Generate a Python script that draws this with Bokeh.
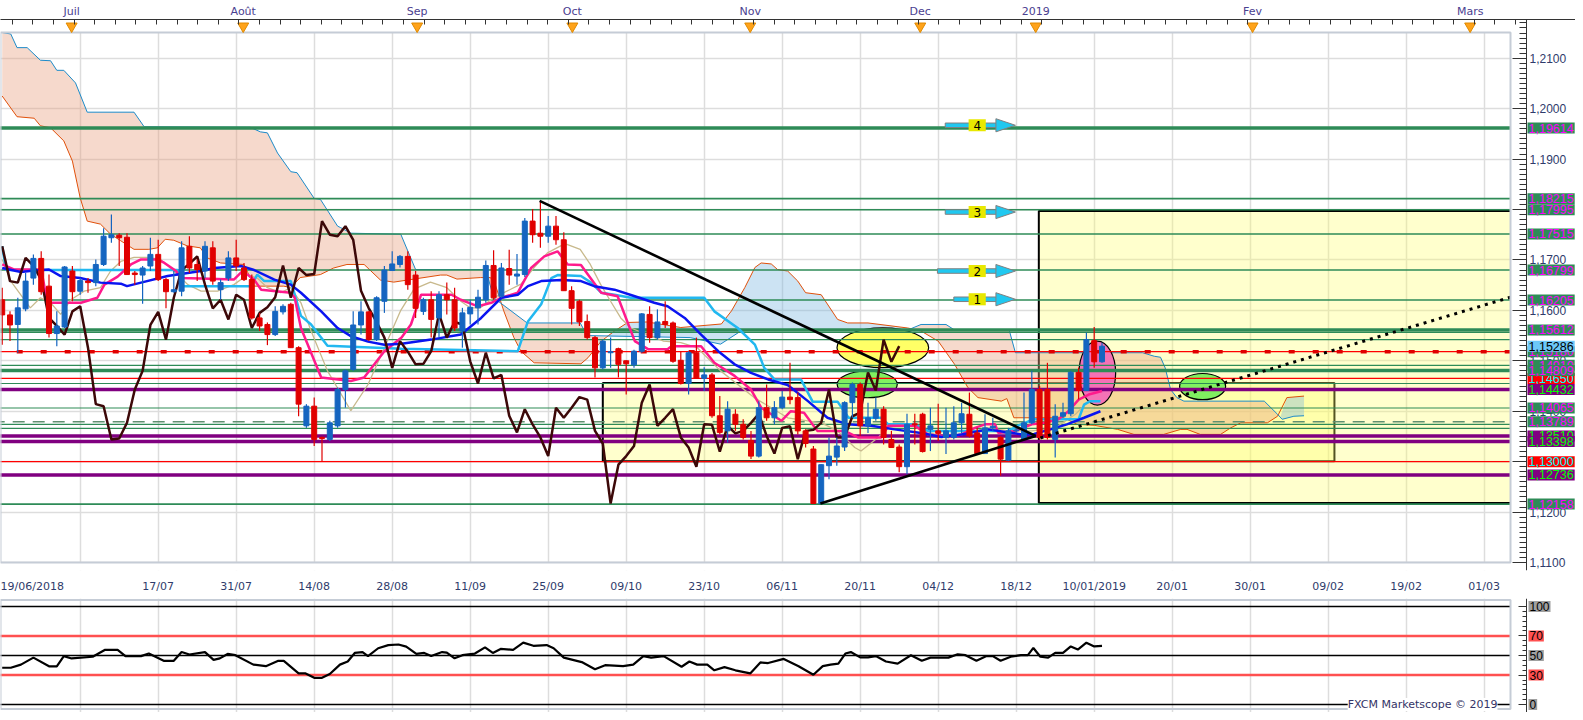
import numpy as np
from bokeh.plotting import figure
from bokeh.models import Range1d, LinearAxis, FixedTicker, CustomJSTickFormatter, Label
from bokeh.layouts import column
from bokeh.embed import file_html
from bokeh.resources import INLINE
from bokeh.core.properties import value

# ---------------- data (EUR/USD daily, bar index 0 = 19/06/2018) ----------------
opens = [1.1621,1.1591,1.1572,1.1603,1.1664,1.1703,1.1648,1.1554,1.1567,1.1678,
 1.1638,1.1658,1.1655,1.1691,1.1744,1.1749,1.1745,1.1674,1.1670,1.1688,
 1.1711,1.1661,1.1637,1.1638,1.1727,1.1691,1.1678,1.1724,1.1641,1.1664,
 1.1704,1.1684,1.1661,1.1585,1.1572,1.1552,1.1597,1.1612,1.1526,1.1371,
 1.1410,1.1348,1.1344,1.1371,1.1443,1.1483,1.1571,1.1597,1.1542,1.1618,
 1.1679,1.1691,1.1707,1.1670,1.1598,1.1621,1.1585,1.1631,1.1621,1.1559,
 1.1593,1.1605,1.1621,1.1689,1.1628,1.1683,1.1668,1.1671,1.1777,1.1753,
 1.1747,1.1767,1.1740,1.1639,1.1618,1.1578,1.1546,1.1486,1.1516,1.1524,
 1.1500,1.1492,1.1519,1.1592,1.1546,1.1578,1.1575,1.1501,1.1455,1.1516,
 1.1465,1.1472,1.1391,1.1361,1.1394,1.1374,1.1342,1.1311,1.1407,1.1387,
 1.1407,1.1428,1.1427,1.1361,1.1325,1.1217,1.1292,1.1309,1.1329,1.1417,
 1.1453,1.1371,1.1386,1.1404,1.1344,1.1329,1.1290,1.1375,1.1394,1.1364,
 1.1361,1.1348,1.1348,1.1377,1.1394,1.1357,1.1316,1.1367,1.1348,1.1303,
 1.1361,1.1344,1.1377,1.1443,1.1443,1.1344,1.1390,1.1395,1.1477,1.1441,
 1.1540,1.1498]
highs = [1.1645,1.1598,1.1625,1.1674,1.1711,1.1717,1.1671,1.1598,1.1688,1.1688,
 1.1664,1.1664,1.1701,1.1763,1.1790,1.1753,1.1753,1.1678,1.1688,1.1744,
 1.1740,1.1664,1.1678,1.1737,1.1747,1.1701,1.1737,1.1737,1.1661,1.1717,
 1.1740,1.1694,1.1671,1.1595,1.1576,1.1608,1.1612,1.1615,1.1529,1.1414,
 1.1427,1.1350,1.1381,1.1447,1.1483,1.1598,1.1618,1.1598,1.1628,1.1688,
 1.1717,1.1710,1.1717,1.1678,1.1625,1.1638,1.1638,1.1655,1.1645,1.1605,
 1.1621,1.1641,1.1699,1.1719,1.1694,1.1720,1.1712,1.1783,1.1801,1.1815,
 1.1787,1.1787,1.1755,1.1648,1.1621,1.1592,1.1549,1.1542,1.1546,1.1526,
 1.1501,1.1522,1.1595,1.1608,1.1602,1.1618,1.1578,1.1519,1.1519,1.1546,
 1.1487,1.1476,1.1430,1.1420,1.1404,1.1384,1.1361,1.1420,1.1453,1.1420,
 1.1440,1.1496,1.1437,1.1364,1.1331,1.1295,1.1348,1.1348,1.1420,1.1457,
 1.1457,1.1417,1.1427,1.1410,1.1361,1.1334,1.1395,1.1395,1.1397,1.1407,
 1.1415,1.1407,1.1410,1.1417,1.1437,1.1367,1.1394,1.1387,1.1351,1.1367,
 1.1366,1.1437,1.1480,1.1450,1.1496,1.1414,1.1417,1.1480,1.1486,1.1556,
 1.1567,1.1536]
lows = [1.1532,1.1539,1.1516,1.1598,1.1651,1.1631,1.1546,1.1529,1.1565,1.1618,
 1.1631,1.1635,1.1648,1.1688,1.1734,1.1688,1.1670,1.1651,1.1613,1.1678,
 1.1658,1.1604,1.1635,1.1628,1.1674,1.1658,1.1664,1.1651,1.1621,1.1658,
 1.1678,1.1658,1.1582,1.1559,1.1531,1.1549,1.1592,1.1526,1.1390,1.1367,
 1.1331,1.1301,1.1341,1.1367,1.1407,1.1480,1.1552,1.1539,1.1539,1.1595,
 1.1678,1.1685,1.1641,1.1585,1.1591,1.1546,1.1546,1.1592,1.1559,1.1526,
 1.1572,1.1572,1.1615,1.1621,1.1625,1.1651,1.1651,1.1666,1.1734,1.1724,
 1.1734,1.1730,1.1639,1.1572,1.1569,1.1542,1.1467,1.1483,1.1486,1.1467,
 1.1433,1.1486,1.1516,1.1536,1.1542,1.1565,1.1496,1.1453,1.1433,1.1465,
 1.1440,1.1387,1.1354,1.1338,1.1361,1.1344,1.1305,1.1308,1.1381,1.1374,
 1.1404,1.1414,1.1354,1.1328,1.1217,1.1216,1.1265,1.1292,1.1321,1.1387,
 1.1351,1.1357,1.1381,1.1334,1.1327,1.1279,1.1275,1.1334,1.1318,1.1321,
 1.1341,1.1315,1.1344,1.1357,1.1348,1.1315,1.1315,1.1361,1.1272,1.1301,
 1.1358,1.1341,1.1374,1.1344,1.1344,1.1308,1.1387,1.1390,1.1423,1.1440,
 1.1486,1.1496]
closes = [1.1591,1.1571,1.1605,1.1658,1.1703,1.1637,1.1554,1.1569,1.1686,1.1637,
 1.1659,1.1655,1.1691,1.1747,1.1750,1.1744,1.1671,1.1671,1.1684,1.1711,
 1.1661,1.1637,1.1641,1.1724,1.1684,1.1681,1.1727,1.1658,1.1655,1.1704,
 1.1688,1.1661,1.1585,1.1569,1.1552,1.1598,1.1608,1.1526,1.1414,1.1410,
 1.1344,1.1346,1.1377,1.1443,1.1480,1.1571,1.1597,1.1542,1.1625,1.1680,
 1.1692,1.1707,1.1651,1.1604,1.1621,1.1582,1.1631,1.1621,1.1565,1.1595,
 1.1606,1.1626,1.1689,1.1625,1.1684,1.1670,1.1672,1.1777,1.1750,1.1747,
 1.1767,1.1740,1.1639,1.1604,1.1577,1.1546,1.1486,1.1539,1.1518,1.1493,
 1.1494,1.1519,1.1593,1.1546,1.1577,1.1572,1.1499,1.1455,1.1516,1.1465,
 1.1472,1.1391,1.1358,1.1404,1.1374,1.1348,1.1311,1.1407,1.1387,1.1407,
 1.1428,1.1423,1.1361,1.1336,1.1217,1.1294,1.1311,1.1331,1.1417,1.1453,
 1.1371,1.1387,1.1404,1.1348,1.1328,1.1290,1.1374,1.1373,1.1320,1.1371,
 1.1356,1.1361,1.1377,1.1395,1.1351,1.1316,1.1367,1.1370,1.1305,1.1361,
 1.1363,1.1377,1.1443,1.1348,1.1348,1.1390,1.1397,1.1477,1.1441,1.1542,
 1.1498,1.1529]
bars = list(range(len(closes)))

# Ichimoku Tenkan (pink)
tenkan_x = [0,1.5,5.0,5.8,10.1,12.2,13.1,14.8,16.5,17.8,19.9,20.8,22.3,22.9,25.5,29.7,30.8,32.3,33.2,37.0,
 37.5,38.3,40.9,44.7,46.4,49.0,51.2,52.4,53.7,57.6,58.8,61.0,62.7,64.0,66.1,67.8,69.5,71.2,72.5,74.2,
 76.8,78.9,81.1,82.8,85.3,85.8,89.6,91.3,93.9,96.0,97.3,99.9,101.1,102.8,104.5,108.0,109.7,112.7,113.6,117.0,
 118.7,121.3,123.0,124.7,126.0,127.3,127.7,129.9,132.0,133.7,135.4,136.7,138.0,139.3,141.0]
tenkan_y = [1.1691,1.1681,1.1681,1.1615,1.1615,1.1625,1.1651,1.1667,1.1691,1.1701,1.1701,1.1694,1.1678,1.1664,1.1663,1.1661,1.1678,1.1661,1.1641,1.1635,
 1.1625,1.1565,1.1467,1.1460,1.1467,1.1519,1.1546,1.1572,1.1631,1.1631,1.1621,1.1608,1.1615,1.1625,1.1635,1.1684,1.1707,1.1717,1.1691,1.1690,
 1.1635,1.1628,1.1539,1.1523,1.1523,1.1529,1.1529,1.1496,1.1470,1.1443,1.1407,1.1381,1.1400,1.1397,1.1361,1.1361,1.1348,1.1348,1.1371,1.1371,
 1.1354,1.1349,1.1354,1.1367,1.1374,1.1374,1.1357,1.1361,1.1374,1.1377,1.1384,1.1400,1.1423,1.1433,1.1440]
# Ichimoku Kijun (light blue)
kijun_x = [0,0.5,22.5,23.0,31.9,32.7,33.6,37.0,38.3,39.6,41.7,51.2,66.1,67.4,69.1,70.4,71.2,74.2,75.5,76.8,
 78.5,80.6,90.0,91.3,94.3,96.5,97.7,99.0,102.4,103.9,107.1,108.5,112.7,113.6,117.0,118.7,127.3,128.5,130.6,132.3,
 138.0,138.7,139.5,140.8]
kijun_y = [1.1727,1.1680,1.1680,1.1648,1.1648,1.1671,1.1658,1.1658,1.1589,1.1572,1.1530,1.1524,1.1519,1.1578,1.1612,1.1664,1.1670,1.1668,1.1655,1.1635,
 1.1631,1.1625,1.1625,1.1598,1.1565,1.1532,1.1486,1.1463,1.1463,1.1419,1.1419,1.1387,1.1387,1.1374,1.1374,1.1361,1.1361,1.1357,1.1374,1.1384,
 1.1384,1.1413,1.1420,1.1420]
# moving average (blue)
sma_x = [0,2.4,4.1,6.0,7.5,10.0,12.6,15.2,16.0,17.8,21.2,25.5,27.2,30.6,32.3,34.9,37.0,38.3,40.9,43.0,
 44.7,46.9,49.0,51.2,55.0,58.8,61.4,64.0,66.1,67.4,69.1,71.7,74.2,75.9,78.5,81.1,83.6,85.3,87.5,89.6,
 91.8,93.9,96.0,98.2,100.7,103.3,105.8,108.4,111.4,114.4,117.8,120.4,123.0,126.4,128.6,130.7,132.3,134.4,136.5,138.7,140.8]
sma_y = [1.1684,1.1676,1.1679,1.1681,1.1668,1.1664,1.1655,1.1653,1.1648,1.1655,1.1668,1.1678,1.1684,1.1688,1.1680,1.1661,1.1651,1.1635,1.1598,1.1565,
 1.1549,1.1538,1.1532,1.1534,1.1542,1.1552,1.1585,1.1625,1.1631,1.1648,1.1658,1.1660,1.1658,1.1648,1.1641,1.1628,1.1615,1.1608,1.1585,1.1552,
 1.1519,1.1493,1.1476,1.1463,1.1452,1.1420,1.1387,1.1374,1.1371,1.1364,1.1357,1.1349,1.1354,1.1364,1.1359,1.1354,1.1355,1.1364,1.1374,1.1387,1.1400]
# slow thin line (beige)
slow_x = [0,1.1,3.6,4.9,6.2,7.5,8.8,10.5,12.6,13.9,15.2,16.9,18.6,20.3,22.0,23.8,25.5,27.6,29.7,31.5,
 32.7,34.0,35.7,37.0,38.3,39.6,41.7,44.7,46.9,49.0,51.1,52.8,54.9,57.0,58.8,60.0,61.3,63.0,64.7,66.5,
 68.2,69.9,71.6,72.4,74.1,75.4,76.7,78.0,79.3,80.6,82.7,84.8,87.0,89.1,92.1,96.4,100.7,105.0,107.1,109.3,
 110.1,112.3,113.6,116.1,119.6,121.3,124.7,126.4,129.0,132.0,135.0,137.6,139.3]
slow_y = [1.1701,1.1658,1.1605,1.1625,1.1615,1.1592,1.1621,1.1638,1.1645,1.1678,1.1697,1.1705,1.1705,1.1701,1.1678,1.1651,1.1638,1.1638,1.1651,1.1671,
 1.1664,1.1645,1.1635,1.1645,1.1615,1.1559,1.1480,1.1401,1.1453,1.1526,1.1600,1.1642,1.1656,1.1645,1.1618,1.1605,1.1605,1.1625,1.1638,1.1652,
 1.1685,1.1714,1.1728,1.1731,1.1721,1.1691,1.1652,1.1618,1.1585,1.1565,1.1552,1.1539,1.1536,1.1526,1.1480,1.1427,1.1387,1.1377,1.1361,1.1328,
 1.1321,1.1348,1.1367,1.1374,1.1354,1.1348,1.1361,1.1367,1.1361,1.1361,1.1367,1.1394,1.1420]
# Senkou span A (orange) and span B (blue)
spanA_x = [0,1.9,4.1,4.9,6.2,7.9,9.0,10.0,10.9,12.6,13.9,15.2,16.9,18.8,19.9,20.9,22.0,23.7,25.4,26.3,
 28.0,31.0,32.3,36.1,37.0,38.2,40.8,42.5,44.2,46.4,48.5,50.2,56.2,57.0,58.3,61.3,62.6,63.2,64.3,65.6,
 66.5,68.2,74.2,75.1,76.8,78.5,80.2,82.7,87.0,92.2,93.5,95.2,96.5,97.3,98.6,99.4,100.7,102.0,103.0,105.0,
 107.1,108.4,111.0,116.1,117.8,120.0,122.1,123.8,125.1,128.1,128.8,129.7,136.1,137.8,140.0,143.0,145.1,148.9,151.1,151.9,
 153.6,156.2,157.5,158.8,162.2,163.5,164.7,166.9]
spanA_y = [1.2025,1.1984,1.1981,1.1966,1.1962,1.1936,1.1896,1.1823,1.1777,1.1771,1.1751,1.1738,1.1721,1.1721,1.1724,1.1741,1.1739,1.1728,1.1724,1.1704,
 1.1694,1.1691,1.1648,1.1648,1.1645,1.1665,1.1671,1.1684,1.1691,1.1691,1.1660,1.1656,1.1670,1.1670,1.1662,1.1665,1.1665,1.1652,1.1599,1.1546,
 1.1519,1.1496,1.1494,1.1506,1.1539,1.1559,1.1576,1.1577,1.1566,1.1573,1.1599,1.1645,1.1685,1.1694,1.1692,1.1681,1.1678,1.1658,1.1635,1.1631,
 1.1582,1.1575,1.1575,1.1565,1.1559,1.1539,1.1493,1.1447,1.1427,1.1420,1.1425,1.1387,1.1387,1.1374,1.1372,1.1364,1.1354,1.1354,1.1364,1.1364,
 1.1354,1.1354,1.1367,1.1377,1.1377,1.1390,1.1427,1.1430]
spanB_x = [0,1.1,1.9,3.2,4.9,6.2,7.0,7.9,9.4,10.9,16.9,18.2,31.8,33.1,34.0,35.3,37.0,37.8,40.0,40.8,
 43.0,43.4,44.7,51.1,53.0,62.0,63.0,67.3,74.1,75.0,88.2,92.1,94.7,96.0,116.1,117.8,121.0,122.1,129.1,129.9,
 146.2,147.7,148.5,149.1,149.8,150.6,151.5,161.8,163.5,164.1,165.6,166.9]
spanB_y = [1.2151,1.2148,1.2121,1.2121,1.2096,1.2095,1.2076,1.2076,1.2051,1.1993,1.1993,1.1964,1.1963,1.1954,1.1952,1.1912,1.1875,1.1873,1.1822,1.1820,
 1.1767,1.1764,1.1753,1.1751,1.1681,1.1681,1.1625,1.1575,1.1575,1.1550,1.1546,1.1533,1.1559,1.1561,1.1561,1.1572,1.1572,1.1561,1.1561,1.1516,
 1.1516,1.1509,1.1507,1.1486,1.1443,1.1427,1.1420,1.1420,1.1394,1.1384,1.1390,1.1391]
cloud_cross_x = [77.4, 116.6, 163.9]
cloud_cross_y = [1.1548, 1.1563, 1.1390]
chikou_lag = 26

# RSI
rsi_x = [0,1.1,2.4,4.0,6.0,7.0,7.9,8.9,11.6,13.2,14.8,15.8,17.8,18.8,20.7,22.0,23.0,24.0,26.0,27.1,
 27.9,28.9,29.9,32.2,33.8,35.4,36.1,38.0,38.9,40.0,41.0,42.0,43.3,44.3,45.2,46.2,46.9,48.2,49.5,50.8,
 51.8,53.1,54.1,55.0,56.4,57.0,58.0,59.0,60.6,61.9,62.9,63.9,65.5,66.8,68.1,69.8,70.7,72.0,74.3,76.0,
 77.3,79.6,80.9,82.2,83.2,84.8,87.1,88.1,89.1,90.4,91.3,92.6,94.0,95.9,97.2,98.2,100.2,102.1,104.0,105.2,
 106.2,107.2,108.1,108.8,110.0,111.0,112.0,113.3,114.8,116.5,117.9,119.0,121.3,122.5,123.5,124.9,126.2,127.0,128.0,129.3,
 130.6,131.5,132.2,133.1,134.1,135.0,136.0,137.0,137.9,139.0,140.0,141.0]
rsi_v = [37.5,37.5,40.7,47.8,39.0,39.0,49.4,47.0,48.7,55.8,55.8,49.4,49.4,52.0,44.6,44.6,53.5,51.0,53.5,45.5,
 47.1,51.6,50.3,40.7,39.1,44.6,44.6,31.7,31.7,27.2,27.2,31.1,40.7,43.9,52.6,53.5,49.4,57.4,60.6,61.2,
 59.0,51.6,52.6,49.4,53.5,52.9,47.1,50.3,52.0,58.3,52.6,56.7,55.8,63.1,59.9,60.6,57.4,47.8,43.3,35.9,
 40.1,39.1,40.7,49.4,47.8,49.4,38.5,43.9,40.7,40.7,34.9,38.1,34.9,31.7,42.9,42.3,46.5,39.1,30.4,39.1,
 40.7,41.7,52.0,53.5,48.1,48.1,49.4,43.9,41.7,50.3,44.6,47.8,47.8,51.3,50.3,44.6,49.4,49.4,44.6,48.7,
 50.3,50.3,57.7,48.7,47.8,52.6,52.6,59.3,56.1,63.1,59.3,59.9]
rsi_levels = [100, 70, 50, 30, 0]

# horizontal levels drawn on the chart
levels = [1.19614,1.18215,1.17995,1.17515,1.16799,1.16205,1.15612,1.1556,1.1542,1.1518,1.1491,1.14809,
          1.1465,1.1455,1.14432,1.14065,1.13789,1.1374,1.1366,1.1351,1.13398,1.1300,1.12736,1.12158]
level_kind = ['G','g','g','g','g','g','G','gt','gt','rd','gt','G','r','gt','P','gt','gd','gt','gt','P','P','r','P','g']
# price tags on the right scale (partly hidden ones first)
tag_values = [1.1518, 1.1491, 1.1465, 1.1351,
              1.12158, 1.12736, 1.1300, 1.13398, 1.13789, 1.14065, 1.14432, 1.14809,
              1.15612, 1.16205, 1.16799, 1.17515, 1.17995, 1.18215, 1.19614, 1.15286]
tag_kind = ['g','g','r','P', 'g','P','r','P','g','g','P','g', 'g','g','g','g','g','g','g','cur']

# drawings
zone_left = [77.0, 132.9]
zone_right = [170.8, 193.6]
zone_bottom = [1.1301, 1.1218]
zone_top = [1.1456, 1.1797]
ell_x = [112.9, 110.9, 153.9, 140.4]
ell_y = [1.15258, 1.14532, 1.14488, 1.14756]
ell_w = [11.75, 7.7, 5.9, 4.7]
ell_h = [0.0079, 0.0053, 0.0052, 0.0127]
trend_x0 = [68.9, 104.9]
trend_y0 = [1.1817, 1.1217]
trend_x1 = [132.5, 132.5]
trend_y1 = [1.1351, 1.1351]
dotted_x = [133.1, 193.37]
dotted_y = [1.1347, 1.1626]
arrow_labels = ["4", "3", "2", "1"]
arrow_y = [1.1967, 1.1795, 1.1678, 1.1622]
arrow_x0 = [120.9, 120.9, 119.9, 122.0]
arrow_x1 = 128.0
arrow_tip = 129.9
arrow_label_x = 125.0

# axes
grid_bars = list(range(10, 200, 10))
date_tick_bars = [3.3, 20, 30, 40, 50, 60, 70, 80, 90, 100, 110, 120, 130, 140, 150, 160, 170, 180, 190]
date_tick_labels = ["19/06/2018", "17/07", "31/07", "14/08", "28/08", "11/09", "25/09", "09/10", "23/10",
                    "06/11", "20/11", "04/12", "18/12", "10/01/2019", "20/01", "30/01", "09/02", "19/02", "01/03"]
month_bars = [8.9, 30.9, 53.2, 73.1, 95.9, 117.7, 132.5, 160.3, 188.2]
month_labels = ["Juil", "Août", "Sep", "Oct", "Nov", "Dec", "2019", "Fev", "Mars"]

# ---------------- layout constants ----------------
FONT = "DejaVu Sans"
TAGFONT = "Liberation Sans"
W = 1575
PX_PER_BAR = 7.8
XMIN = -0.218
XMAX = XMIN + W / PX_PER_BAR
XR = XMIN + 1510 / PX_PER_BAR      # right edge of the chart box
XA = XMIN + 1526 / PX_PER_BAR      # price scale position
CHART_TOP = 1.2151
CHART_BOT = 1.1100
PX_PER_PRICE = 530 / (CHART_TOP - CHART_BOT)
YMAX = CHART_TOP + 13 / PX_PER_PRICE
YMIN = CHART_BOT - 8 / PX_PER_PRICE
GREEN = "#2E8B57"
PURPLE = "#800080"
AXIS_TXT = "#2F3B6B"
BOX = "#C5CCD6"

# ---------------- main chart ----------------
p = figure(width=W, height=598, x_range=Range1d(XMIN, XMAX), y_range=Range1d(YMIN, YMAX),
           output_backend="svg", toolbar_location=None, y_axis_location=None,
           min_border_left=0, min_border_right=0, min_border_top=19, min_border_bottom=28,
           background_fill_color="white", border_fill_color="white")
p.outline_line_color = None

p.xgrid.ticker = FixedTicker(ticks=grid_bars)
p.ygrid.ticker = FixedTicker(ticks=[round(1.11 + 0.01 * k, 2) for k in range(11)])
for g in (p.xgrid[0], p.ygrid[0]):
    g.grid_line_color = "#DDDDDD"
    g.grid_line_width = 1.5

xb = p.xaxis[0]
xb.ticker = FixedTicker(ticks=date_tick_bars)
xb.major_label_overrides = {t: s for t, s in zip(date_tick_bars, date_tick_labels)}
xb.axis_line_color = None
xb.major_tick_line_color = None
xb.minor_tick_line_color = None
xb.major_label_standoff = 3
xb.major_label_text_font = FONT
xb.major_label_text_font_size = "11px"
xb.major_label_text_color = AXIS_TXT

top = LinearAxis(ticker=FixedTicker(ticks=month_bars, minor_ticks=list(np.arange(1.3, XA, 2.64))))
top.major_label_overrides = {t: s for t, s in zip(month_bars, month_labels)}
top.axis_line_color = "#333333"
top.major_tick_in = 0
top.major_tick_out = 0
top.minor_tick_in = 5
top.minor_tick_out = 0
top.minor_tick_line_color = "#333333"
top.major_label_standoff = 2
top.major_label_text_font = FONT
top.major_label_text_font_size = "11px"
top.major_label_text_color = "#4A4090"
p.add_layout(top, "above")

ya = LinearAxis(fixed_location=XA,
                ticker=FixedTicker(ticks=[round(1.11 + 0.01 * k, 2) for k in range(11)],
                                   minor_ticks=[round(1.11 + 0.001 * k, 3) for k in range(108)]),
                formatter=CustomJSTickFormatter(code="return tick.toFixed(4).replace('.', ',');"))
ya.axis_line_color = "#333333"
ya.major_tick_out = 0
ya.major_tick_in = 14
ya.minor_tick_out = 0
ya.minor_tick_in = 7
ya.major_tick_line_color = "#333333"
ya.minor_tick_line_color = "#333333"
ya.major_label_standoff = 3
ya.major_label_text_font = TAGFONT
ya.major_label_text_font_size = "12px"
ya.major_label_text_color = AXIS_TXT
p.add_layout(ya, "right")

# rectangles (zones)
p.quad(left=zone_left, right=zone_right, bottom=zone_bottom, top=zone_top,
       fill_color="#FFFF66", fill_alpha=0.33, line_color="black", line_width=2)

# cloud
cuts = [spanA_x[0]] + cloud_cross_x + [spanA_x[-1]]
cxs, cys, ccol = [], [], []
for k in range(len(cuts) - 1):
    lo, hi = cuts[k], cuts[k + 1]
    px, py = [], []
    if k > 0:
        px.append(cloud_cross_x[k - 1]); py.append(cloud_cross_y[k - 1])
    for x, y in zip(spanA_x, spanA_y):
        if lo <= x <= hi:
            px.append(x); py.append(y)
    if k < len(cloud_cross_x):
        px.append(cloud_cross_x[k]); py.append(cloud_cross_y[k])
    bpts = [(x, y) for x, y in zip(spanB_x, spanB_y) if lo <= x <= hi]
    for x, y in reversed(bpts):
        px.append(x); py.append(y)
    cxs.append(px); cys.append(py)
    ccol.append("#E8A080" if k % 2 == 0 else "#80B8E0")
p.patches(xs=cxs, ys=cys, fill_color=ccol, fill_alpha=0.4, line_color=None)
p.line(spanA_x, spanA_y, line_color="#E0500A", line_width=1)
p.line(spanB_x, spanB_y, line_color="#1C8AC8", line_width=1)

# ellipses
p.ellipse(x=ell_x, y=ell_y, width=ell_w, height=ell_h,
          fill_color=["#FFFF66", "#80F060", "#80F060", "#F472B6"], fill_alpha=1.0,
          line_color="black", line_width=1.2)

# horizontal levels
for lv, kd in zip(levels, level_kind):
    x0, x1 = XMIN - 1, XR
    if kd == 'G':
        p.segment(x0, lv, x1, lv, line_color=GREEN, line_width=3.5)
    elif kd == 'g':
        p.segment(x0, lv, x1, lv, line_color=GREEN, line_width=1.6)
    elif kd == 'gt':
        p.segment(x0, lv, x1, lv, line_color=GREEN, line_width=1.1)
    elif kd == 'P':
        p.segment(x0, lv, x1, lv, line_color=PURPLE, line_width=3.5)
    elif kd == 'r':
        p.segment(x0, lv, x1, lv, line_color="#FF0000", line_width=1.3)
    elif kd == 'rd':
        p.segment(x0, lv, x1, lv, line_color="#FF0000", line_width=1.3)
        p.segment(x0, lv, x1, lv, line_color="#E00000", line_width=3.5, line_dash="6 18")
    elif kd == 'gd':
        p.segment(x0, lv, x1, lv, line_color="#5F9070", line_width=1.5, line_dash="12 8")

# indicator lines
p.line(slow_x, slow_y, line_color="#C8B98C", line_width=1.3)
p.line(kijun_x, kijun_y, line_color="#22B8F0", line_width=2.5)
p.line(tenkan_x, tenkan_y, line_color="#FF1A8C", line_width=2.5)
p.line(sma_x, sma_y, line_color="#0A14F0", line_width=2.5)
p.line(bars[:-chikou_lag], closes[chikou_lag:], line_color="#3C0808", line_width=2.5)

# candles
ccolors = ["#1565C0" if c >= o else "#E00000" for o, c in zip(opens, closes)]
p.segment(x0=bars, y0=lows, x1=bars, y1=highs, line_color=ccolors, line_width=1.2)
p.vbar(x=bars, width=0.64, top=[max(o, c) for o, c in zip(opens, closes)],
       bottom=[min(o, c) for o, c in zip(opens, closes)], fill_color=ccolors, line_color=ccolors)

# trendlines
p.segment(x0=trend_x0, y0=trend_y0, x1=trend_x1, y1=trend_y1, line_color="black", line_width=2.6)
p.line(dotted_x, dotted_y, line_color="black", line_width=3, line_dash="3 5")

# arrows 1-4
hs, hh = 0.00045, 0.0013
p.quad(left=arrow_x0, right=[arrow_x1] * 4, bottom=[y - hs for y in arrow_y], top=[y + hs for y in arrow_y],
       fill_color="#20C8F0", line_color="#808080", line_width=1)
p.patches(xs=[[arrow_x1 - 0.6, arrow_tip, arrow_x1 - 0.6] for _ in arrow_y],
          ys=[[y + hh, y, y - hh] for y in arrow_y], fill_color="#20C8F0", line_color="#808080", line_width=1)
p.quad(left=[arrow_label_x - 1.1] * 4, right=[arrow_label_x + 1.1] * 4,
       bottom=[y - 0.0012 for y in arrow_y], top=[y + 0.0012 for y in arrow_y],
       fill_color="#E8E800", line_color=None)
p.text(x=[arrow_label_x] * 4, y=arrow_y, text=arrow_labels, text_align="center", text_baseline="middle",
       text_font=value(FONT), text_font_size="12px", text_color="black")

# white margins: top band, bottom strip and right scale area
p.quad(left=[XMIN - 1], right=[XMAX + 1], bottom=[CHART_TOP], top=[YMAX + 0.001], fill_color="white", line_color=None)
p.quad(left=[XMIN - 1], right=[XMAX + 1], bottom=[YMIN - 0.001], top=[CHART_BOT], fill_color="white", line_color=None)
p.quad(left=[XR], right=[XMAX + 1], bottom=[YMIN - 0.01], top=[YMAX + 0.01], fill_color="white", line_color=None)
p.quad(left=[XMIN], right=[XR], bottom=[CHART_BOT], top=[CHART_TOP], fill_color=None, line_color=BOX, line_width=2)
p.scatter(x=month_bars, y=[CHART_TOP + 0.00125] * len(month_bars), marker="inverted_triangle", size=11,
          fill_color="#FFA31A", line_color="#E08A00")

# price tags on the scale
tag_style = {'g': (GREEN, "#FF00FF"), 'P': (PURPLE, "#00FF00"), 'r': ("#FF0000", "#00FFFF"),
             'cur': ("#6CC8F8", "black")}
for v, kd in zip(tag_values, tag_kind):
    bg, fg = tag_style[kd]
    p.add_layout(Label(x=XA, y=v, x_offset=1, text=("%.5f" % v).replace(".", ","),
                       text_font=TAGFONT, text_font_size="12.5px", text_color=fg, text_align="left",
                       text_baseline="middle", background_fill_color=bg, background_fill_alpha=1.0,
                       padding=1))

# ---------------- RSI panel ----------------
R_BOT, R_TOP = -8.16, 108.16
r = figure(width=W, height=114, x_range=p.x_range, y_range=Range1d(R_BOT, R_TOP),
           output_backend="svg", toolbar_location=None, y_axis_location=None,
           min_border_left=0, min_border_right=0, min_border_top=0, min_border_bottom=0,
           background_fill_color="white", border_fill_color="white")
r.outline_line_color = None
r.xaxis.visible = False
r.ygrid.visible = False
r.xgrid.ticker = FixedTicker(ticks=grid_bars)
r.xgrid.grid_line_color = "#DDDDDD"
r.xgrid.grid_line_width = 1.5
ry = LinearAxis(fixed_location=XA, ticker=FixedTicker(ticks=rsi_levels, minor_ticks=list(range(5, 100, 5))),
                formatter=CustomJSTickFormatter(code="return '';"))
ry.axis_line_color = "#333333"
ry.major_tick_out = 0
ry.major_tick_in = 8
ry.minor_tick_out = 0
ry.minor_tick_in = 4
ry.major_tick_line_color = "#333333"
ry.minor_tick_line_color = "#333333"
r.add_layout(ry, "right")

for lv in rsi_levels:
    if lv in (30, 70):
        r.segment(XMIN - 1, lv, XR, lv, line_color="#FF5050", line_width=2.5)
    else:
        r.segment(XMIN - 1, lv, XR, lv, line_color="black", line_width=1.5)
r.line(rsi_x, rsi_v, line_color="black", line_width=2.2)
r.quad(left=[XR], right=[XMAX + 1], bottom=[R_BOT - 5], top=[R_TOP + 5], fill_color="white", line_color=None)
r.quad(left=[XMIN], right=[XR], bottom=[-4.5], top=[R_TOP - 1.5], fill_color=None, line_color=BOX, line_width=2)
for lv in rsi_levels:
    bg = "#FF5050" if lv in (30, 70) else "#A0A0A0"
    r.add_layout(Label(x=XA, y=lv, x_offset=2, text=str(lv), text_font=TAGFONT, text_font_size="12px",
                       text_color="black", text_align="left", text_baseline="middle",
                       background_fill_color=bg, background_fill_alpha=1.0, padding=1))
r.add_layout(Label(x=XR, y=0, x_offset=-13, text="FXCM Marketscope © 2019", text_font=FONT,
                   text_font_size="11px", text_color="#333366", text_align="right", text_baseline="middle",
                   background_fill_color="white", background_fill_alpha=1.0))

layout = column(p, r)
open("out.html", "w").write(file_html(layout, INLINE))
